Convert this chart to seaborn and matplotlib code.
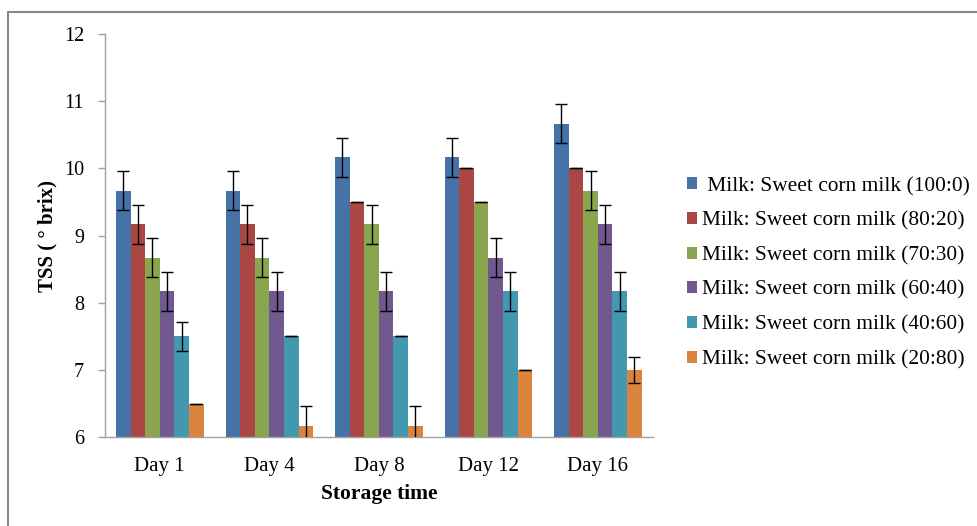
import numpy as np
import pandas as pd
import seaborn as sns
import matplotlib
matplotlib.use("Agg")
import matplotlib.pyplot as plt
from matplotlib.patches import Patch
from matplotlib.lines import Line2D

days = ["Day 1", "Day 4", "Day 8", "Day 12", "Day 16"]
series = [" Milk: Sweet corn milk (100:0)", "Milk: Sweet corn milk (80:20)",
          "Milk: Sweet corn milk (70:30)", "Milk: Sweet corn milk (60:40)",
          "Milk: Sweet corn milk (40:60)", "Milk: Sweet corn milk (20:80)"]
colors = ["#4572A7", "#AA4643", "#89A54E", "#71588F", "#4198AF", "#DB843D"]

v100_0 = [9.67, 9.67, 10.17, 10.17, 10.67]
v80_20 = [9.17, 9.17, 9.50, 10.00, 10.00]
v70_30 = [8.67, 8.67, 9.17, 9.50, 9.67]
v60_40 = [8.17, 8.17, 8.17, 8.67, 9.17]
v40_60 = [7.50, 7.50, 7.50, 8.17, 8.17]
v20_80 = [6.50, 6.17, 6.17, 7.00, 7.00]

e100_0 = [0.29, 0.29, 0.29, 0.29, 0.29]
e80_20 = [0.29, 0.29, 0.00, 0.00, 0.00]
e70_30 = [0.29, 0.29, 0.29, 0.00, 0.29]
e60_40 = [0.29, 0.29, 0.29, 0.29, 0.29]
e40_60 = [0.22, 0.00, 0.00, 0.29, 0.29]
e20_80 = [0.00, 0.29, 0.29, 0.00, 0.20]

values = [v100_0, v80_20, v70_30, v60_40, v40_60, v20_80]
errors = [e100_0, e80_20, e70_30, e60_40, e40_60, e20_80]

rows = []
for s, vals, errs in zip(series, values, errors):
    for d, v, e in zip(days, vals, errs):
        rows.append({"Day": d, "Series": s, "TSS": v, "err": e})
df = pd.DataFrame(rows)

sns.set_theme(style="white")
plt.rcParams["font.family"] = ["Liberation Serif", "DejaVu Serif"]
plt.rcParams["text.color"] = "black"
plt.rcParams["axes.labelcolor"] = "black"
plt.rcParams["xtick.labelcolor"] = "black"
plt.rcParams["ytick.labelcolor"] = "black"

fig = plt.figure(figsize=(9.77, 5.26), dpi=100)
ax = fig.add_axes([0.1075, 0.169, 0.5605, 0.766])

sns.barplot(data=df, x="Day", y="TSS", hue="Series", order=days,
            hue_order=series, palette=colors, width=0.8, errorbar=None,
            saturation=1, ax=ax, legend=False, linewidth=0)

# error bars at the bar centers seaborn produced
bars = [p for p in ax.patches]
for i, s in enumerate(series):
    sub = bars[i * len(days):(i + 1) * len(days)]
    xs = [p.get_x() + p.get_width() / 2 for p in sub]
    tops = [p.get_height() for p in sub]
    ax.errorbar(xs, tops, yerr=errors[i], fmt="none", ecolor="black",
                elinewidth=1.0, capsize=4.3, capthick=1.0, zorder=5)

ax.set_ylim(6, 12)
ax.set_xlim(-0.5, 4.5)
ax.set_yticks(range(6, 13))
ax.set_yticklabels([str(t) for t in range(6, 13)], fontsize=14.5)
ax.set_xticks(range(5))
ax.set_xticklabels(days, fontsize=15)
ax.set_xticks(np.arange(-0.5, 5, 1), minor=True)
ax.tick_params(axis="x", which="major", length=0, pad=14, labelcolor="black")
ax.tick_params(axis="x", which="minor", length=5, color="#A0A0A0", width=1, direction="out")
ax.tick_params(axis="y", which="major", length=5, color="#A0A0A0", width=1, direction="out",
               pad=10, left=True, labelcolor="black")
for side in ["top", "right"]:
    ax.spines[side].set_visible(False)
for side in ["left", "bottom"]:
    ax.spines[side].set_color("#A0A0A0")
    ax.spines[side].set_linewidth(1)

ax.set_xlabel("Storage time", fontsize=15.5, fontweight="bold", labelpad=6, color="black")
ax.set_ylabel("TSS ( ° brix)", fontsize=15, fontweight="bold", labelpad=5, color="black")

handles = [Patch(facecolor=c, edgecolor="none") for c in colors]
leg = fig.legend(handles, series, loc="center left", bbox_to_anchor=(0.703, 0.481),
                 frameon=False, fontsize=15.4, handlelength=0.47, handleheight=0.47,
                 handletextpad=0.23, labelspacing=0.72, borderaxespad=0, borderpad=0)
for t in leg.get_texts():
    t.set_color("black")

# figure border (left and top edges visible)
fig.add_artist(Line2D([8 / 977, 8 / 977], [0, 1 - 12 / 526], transform=fig.transFigure,
                      color="#888888", lw=1.5))
fig.add_artist(Line2D([8 / 977, 1], [1 - 12 / 526, 1 - 12 / 526], transform=fig.transFigure,
                      color="#888888", lw=1.5))

fig.savefig("out.png", dpi=100)
